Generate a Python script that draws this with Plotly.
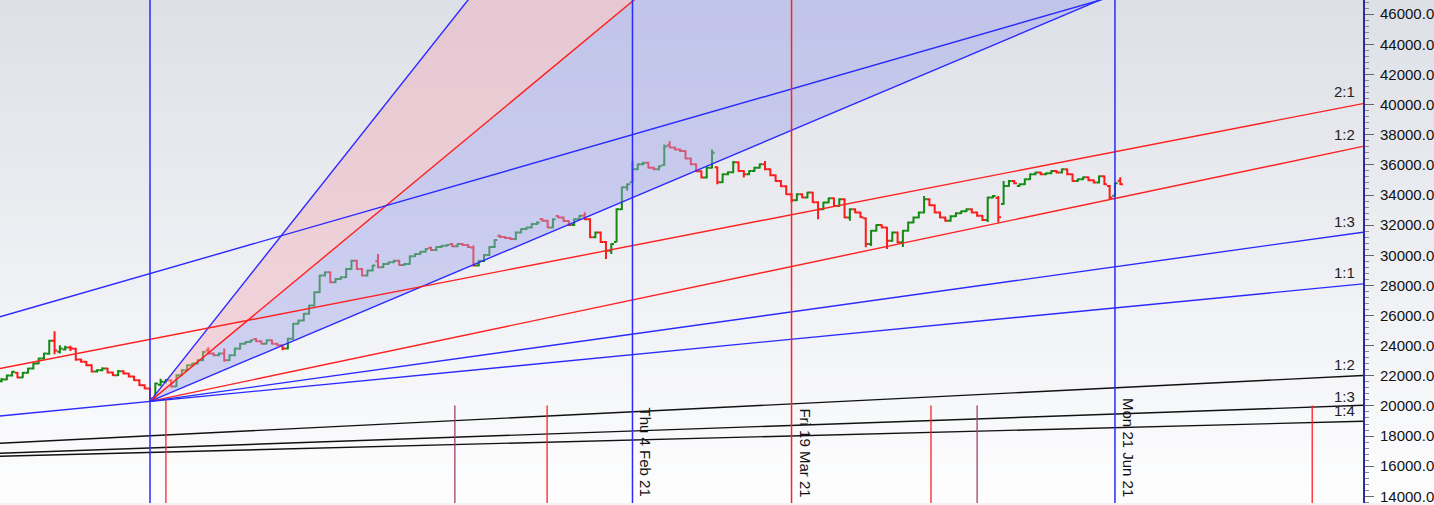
import plotly.graph_objects as go

# trading sessions counted from the swing low of Sep 2020 (bar 0)
bar_idx = list(range(-28, 184))

bar_open = [
    21650, 21760, 22020, 22200, 21890, 22200, 22480, 22810, 23140, 23470,
    24330, 23600, 23750, 23880, 23800, 23080, 22930, 22700, 22280, 22370,
    22480, 22220, 22040, 22300, 22150, 21950, 21710, 21380, 21160, 20500,
    21400, 21600, 21700, 21290, 22040, 22370, 22700, 22810, 23030, 23700,
    23480, 23360, 23474, 23030, 23360, 23800, 24135, 24245, 24450, 24300,
    24135, 24354, 24135, 24023, 23804, 24466, 25457, 25677, 26118, 26667,
    27553, 28650, 28875, 28214, 28433, 28545, 29094, 29642, 29094, 28650,
    28985, 29600, 29205, 29424, 29536, 29642, 29358, 29424, 29934, 30085,
    30237, 30500, 30350, 30548, 30635, 30750, 30600, 30747, 30680, 30500,
    29314, 29623, 30020, 30548, 31300, 31210, 31143, 31077, 31520, 31738,
    31850, 32069, 32400, 32288, 31850, 32600, 32512, 32267, 32003, 32399,
    32618, 32399, 31190, 31520, 30879, 30303, 30880, 33061, 34515, 34846,
    35705, 36036, 36148, 35817, 35705, 36000, 37300, 37160, 37028, 36915,
    36432, 36036, 35573, 35156, 35817, 35838, 34846, 35375, 35507, 36168,
    35593, 35375, 35593, 35817, 36036, 35705, 35309, 34932, 34581, 34052,
    33656, 34052, 33834, 34165, 33523, 33061, 33503, 33788, 33279, 33722,
    32512, 33061, 32842, 32450, 30747, 31626, 32003, 31850, 30965, 31520,
    30859, 31626, 32181, 32512, 32842, 33722, 33325, 32842, 32512, 32287,
    32598, 32796, 32929, 33061, 32842, 32618, 32334, 33834, 33800, 33400,
    34601, 34932, 34600, 34714, 35044, 35375, 35487, 35375, 35441, 35593,
    35487, 35705, 35375, 34932, 35044, 35176, 34978, 34826, 35243, 34600,
    33950, 34950]

bar_high = [
    21850, 22080, 22320, 22260, 22250, 22540, 22870, 23200, 23530, 24400,
    24950, 24020, 23990, 24000, 23860, 23150, 22990, 22760, 22440, 22560,
    22540, 22280, 22380, 22360, 22210, 22010, 21770, 21440, 21220, 21550,
    21800, 21780, 21760, 22100, 22430, 22760, 22880, 23090, 23640, 23900,
    23540, 23540, 23804, 23420, 23860, 24190, 24300, 24410, 24510, 24360,
    24410, 24410, 24190, 24080, 24520, 25510, 25730, 26170, 26720, 27610,
    28700, 28930, 28930, 28490, 28600, 29150, 29700, 29700, 29150, 29040,
    29370, 30085, 29480, 29590, 29700, 29700, 29480, 29990, 30140, 30290,
    30470, 30560, 30600, 30690, 30740, 30810, 30800, 30800, 30740, 30650,
    29680, 30080, 30600, 31070, 31360, 31270, 31200, 31580, 31790, 31900,
    32120, 32240, 32460, 32340, 32450, 32660, 32570, 32320, 32450, 32670,
    32862, 32450, 31580, 31580, 30940, 30800, 33120, 34570, 34770, 36254,
    36090, 36200, 36200, 35870, 35960, 37358, 37577, 37220, 37080, 36970,
    36490, 36090, 35630, 35870, 37028, 35900, 35430, 35560, 36254, 36220,
    35650, 35650, 35870, 36090, 36254, 35760, 35360, 34990, 34640, 34110,
    34110, 34110, 34220, 34220, 33580, 33560, 33840, 33840, 33780, 33780,
    33120, 33120, 32900, 32510, 31680, 32060, 32060, 31900, 31580, 31580,
    31680, 32240, 32570, 32900, 33940, 33780, 33380, 32900, 32570, 32650,
    32850, 32980, 33120, 33120, 32900, 32670, 33890, 34000, 33940, 34932,
    34990, 34990, 34770, 35100, 35430, 35540, 35540, 35500, 35650, 35650,
    35760, 35760, 35430, 35100, 35230, 35230, 35030, 35300, 35300, 34660,
    34830, 35176]

bar_low = [
    21550, 21700, 21950, 21830, 21850, 22150, 22420, 22760, 23080, 23400,
    23430, 23480, 23680, 23650, 23000, 22860, 22640, 22220, 22220, 22300,
    22160, 21980, 21990, 22090, 21890, 21650, 21320, 21100, 20300, 20420,
    21300, 21500, 21230, 21250, 21980, 22300, 22640, 22750, 22980, 23420,
    23300, 23290, 22925, 22980, 23300, 23740, 24080, 24190, 24240, 24080,
    24080, 24080, 23960, 23700, 23750, 24400, 25400, 25620, 26060, 26600,
    27500, 28590, 28150, 28150, 28380, 28490, 29040, 29040, 28590, 28590,
    28930, 29150, 29150, 29370, 29480, 29300, 29300, 29370, 29880, 30030,
    30180, 30290, 30290, 30490, 30580, 30540, 30540, 30620, 30490, 29250,
    29250, 29560, 29960, 30490, 31150, 31080, 31020, 31020, 31460, 31680,
    31790, 32010, 32230, 31790, 31790, 32450, 32210, 31950, 31950, 32340,
    32340, 31130, 31130, 30820, 29755, 30085, 30880, 33000, 34300, 34846,
    35650, 35980, 35760, 35650, 35650, 35950, 37100, 36970, 36860, 36380,
    35980, 35520, 35100, 35100, 35760, 34714, 34790, 35320, 35450, 35540,
    35156, 35320, 35540, 35760, 35650, 35250, 34880, 34530, 34000, 33523,
    33600, 33780, 33780, 33470, 32399, 33000, 33450, 33220, 33220, 32450,
    32287, 32790, 32480, 30528, 30614, 31570, 31790, 30416, 30900, 30800,
    30548, 31570, 32120, 32450, 32790, 33270, 32790, 32450, 32230, 32230,
    32540, 32740, 32870, 32790, 32560, 32280, 32201, 33780, 32181, 33350,
    34550, 34720, 34550, 34660, 34990, 35320, 35320, 35320, 35390, 35430,
    35430, 35320, 34880, 34880, 34990, 34920, 34770, 34770, 34660, 33722,
    33900, 34660]

bar_close = [
    21755, 22020, 22265, 21887, 22200, 22482, 22813, 23143, 23474, 24333,
    23672, 23804, 23870, 23804, 23077, 22925, 22700, 22284, 22370, 22482,
    22218, 22040, 22304, 22151, 21953, 21708, 21378, 21160, 20500, 21490,
    21600, 21708, 21290, 22040, 22370, 22700, 22813, 23030, 23585, 23480,
    23360, 23474, 23030, 23360, 23804, 24135, 24245, 24354, 24300, 24135,
    24354, 24135, 24023, 23804, 24466, 25457, 25677, 26118, 26667, 27553,
    28650, 28875, 28214, 28433, 28545, 29094, 29642, 29094, 28650, 28985,
    29314, 29205, 29424, 29536, 29642, 29358, 29424, 29934, 30085, 30237,
    30416, 30350, 30548, 30635, 30680, 30600, 30747, 30680, 30548, 29314,
    29623, 30020, 30548, 31011, 31210, 31143, 31077, 31520, 31738, 31850,
    32069, 32181, 32288, 31850, 32399, 32512, 32267, 32003, 32399, 32618,
    32399, 31190, 31520, 30879, 30303, 30747, 33061, 34515, 34714, 35705,
    36036, 36148, 35817, 35705, 35904, 37226, 37160, 37028, 36915, 36432,
    36036, 35573, 35156, 35817, 36809, 34846, 35375, 35507, 36168, 35593,
    35375, 35593, 35817, 36036, 35705, 35309, 34932, 34581, 34052, 33656,
    34052, 33834, 34165, 33523, 33061, 33503, 33788, 33279, 33722, 32512,
    33061, 32842, 32532, 30747, 31626, 32003, 31850, 30965, 31520, 30859,
    31626, 32181, 32512, 32842, 33722, 33325, 32842, 32512, 32287, 32598,
    32796, 32929, 33061, 32842, 32618, 32334, 33834, 33940, 32532, 34601,
    34932, 34780, 34714, 35044, 35375, 35487, 35375, 35441, 35593, 35487,
    35705, 35375, 34932, 35044, 35176, 34978, 34826, 35243, 34714, 33834,
    34780, 34714]

# visible window of the chart, in bars
view_start = -28.29
view_end = 228.78

# Gann fan from the swing low: points per bar and colour of each ray
fan_origin_bar = 0
fan_origin_price = 20300
fan_rates = [444.2, 291.9, 148.7, 74.0, 49.1, 34.1]
fan_colors = ['#2a2aff', '#ff2020', '#2a2aff', '#ff2020', '#2a2aff', '#2a2aff']

# other trend lines: price at the left edge and at the right edge
upper_red = [22480, 40070]
upper_blue = [25920, 51960]
black_12 = [17520, 22020]
black_13 = [16860, 20040]
black_14 = [16660, 18980]

# ratio labels next to the price axis
ratio_labels = ['2:1', '1:2', '1:3', '1:1', '1:2', '1:3', '1:4']
ratio_label_prices = [40860, 38020, 32270, 28830, 22750, 20630, 19700]

# date lines
date_bars = [0, 91, 121, 182]
date_colors = ['#2a2aff', '#2a2aff', '#ff2020', '#2a2aff']
date_texts = ['', 'Thu 4 Feb 21', 'Fri 19 Mar 21', 'Mon 21 Jun 21']
cycle_red_bars = [3, 74.9, 147.3, 219.2]
cycle_red_tops = [20370, 20030, 20030, 20030]
cycle_purple_bars = [57.5, 156.0]
cycle_purple_tops = [20030, 20030]

y_min = 13556
y_max = 46945

FONT = 'Liberation Sans, Arial, sans-serif'

data = []

# shaded sectors of the fan
def fan_price(rate, bar):
    return fan_origin_price + rate * (bar - fan_origin_bar)

trace_pink = go.Scatter(
    x=[fan_origin_bar, view_end, view_end, fan_origin_bar],
    y=[fan_origin_price, fan_price(fan_rates[0], view_end), fan_price(fan_rates[1], view_end), fan_origin_price],
    fill='toself', fillcolor='rgba(240,170,185,0.45)', mode='lines',
    line=dict(width=0), hoverinfo='skip', showlegend=False)
trace_lav = go.Scatter(
    x=[fan_origin_bar, view_end, view_end, fan_origin_bar],
    y=[fan_origin_price, fan_price(fan_rates[1], view_end), fan_price(fan_rates[2], view_end), fan_origin_price],
    fill='toself', fillcolor='rgba(160,165,235,0.45)', mode='lines',
    line=dict(width=0), hoverinfo='skip', showlegend=False)
data += [trace_pink, trace_lav]

for i, rate in enumerate(fan_rates):
    start = view_start if i == len(fan_rates) - 1 else fan_origin_bar
    data.append(go.Scatter(
        x=[start, view_end], y=[fan_price(rate, start), fan_price(rate, view_end)],
        mode='lines', line=dict(color=fan_colors[i], width=1.4),
        hoverinfo='skip', showlegend=False))

for vals, col in [(upper_red, '#ff2020'), (upper_blue, '#2a2aff'),
                  (black_12, '#111111'), (black_13, '#111111'), (black_14, '#111111')]:
    data.append(go.Scatter(
        x=[view_start, view_end], y=vals, mode='lines',
        line=dict(color=col, width=1.4), hoverinfo='skip', showlegend=False))

trace_bars = go.Ohlc(
    x=bar_idx, open=bar_open, high=bar_high, low=bar_low, close=bar_close,
    increasing=dict(line=dict(color='#128a12', width=2)),
    decreasing=dict(line=dict(color='#ff1a1a', width=2)),
    tickwidth=0.5, showlegend=False)
data.append(trace_bars)

# background gradient (grey-blue at the top, white at the bottom)
shapes = []
n_bands = 40
top_rgb = (221, 224, 231)
bot_rgb = (253, 253, 254)
for k in range(n_bands):
    t = k / (n_bands - 1)
    c = tuple(round(top_rgb[j] + (bot_rgb[j] - top_rgb[j]) * t) for j in range(3))
    shapes.append(dict(type='rect', xref='paper', yref='paper', layer='below',
                       x0=0, x1=1.06, y0=1 - (k + 1) / n_bands, y1=1 - k / n_bands + 0.002,
                       fillcolor='rgb(%d,%d,%d)' % c, line=dict(width=0)))

for b, col in zip(date_bars, date_colors):
    shapes.append(dict(type='line', xref='x', yref='paper', x0=b, x1=b, y0=0, y1=1,
                       line=dict(color=col, width=1.5)))
for b, top in zip(cycle_red_bars, cycle_red_tops):
    shapes.append(dict(type='line', xref='x', yref='y', x0=b, x1=b, y0=y_min - 1000, y1=top,
                       line=dict(color='#ff2020', width=1.3)))
for b, top in zip(cycle_purple_bars, cycle_purple_tops):
    shapes.append(dict(type='line', xref='x', yref='y', x0=b, x1=b, y0=y_min - 1000, y1=top,
                       line=dict(color='#a0406a', width=1.3)))

annotations = []
for b, txt in zip(date_bars, date_texts):
    if txt:
        annotations.append(dict(x=b, y=0, xref='x', yref='paper', text=txt, textangle=90,
                                xanchor='left', yanchor='bottom', xshift=3, yshift=4,
                                showarrow=False, font=dict(family=FONT, size=15, color='#111111')))
for txt, p in zip(ratio_labels, ratio_label_prices):
    annotations.append(dict(x=1, y=p, xref='paper', yref='y', text=txt, xanchor='right',
                            yanchor='middle', xshift=-6, showarrow=False,
                            font=dict(family=FONT, size=15, color='#222222')))

layout = go.Layout(
    width=1434, height=505,
    margin=dict(l=0, r=71, t=0, b=0),
    paper_bgcolor='#f2f3f6', plot_bgcolor='rgba(0,0,0,0)',
    font=dict(family=FONT, size=15, color='#111111'),
    showlegend=False,
    xaxis=dict(range=[view_start, view_end], visible=False, rangeslider=dict(visible=False),
               showgrid=False, zeroline=False),
    yaxis=dict(range=[y_min, y_max], side='right', showgrid=False, zeroline=False,
               dtick=2000, tick0=0, tickformat='.1f', ticks='outside', ticklen=9,
               tickcolor='#666666', tickwidth=1, ticklabeloverflow='allow',
               ticklabelstandoff=3,
               minor=dict(dtick=400, ticks='outside', ticklen=4, tickcolor='#888888'),
               showline=True, linecolor='#2c2c9c', linewidth=2,
               tickfont=dict(family=FONT, size=15, color='#111111')),
    shapes=shapes,
    annotations=annotations,
)

fig = go.Figure(data=data, layout=layout)
fig.write_html('out.html', config={'displayModeBar': False},
               post_script="document.body.style.margin='0';")
